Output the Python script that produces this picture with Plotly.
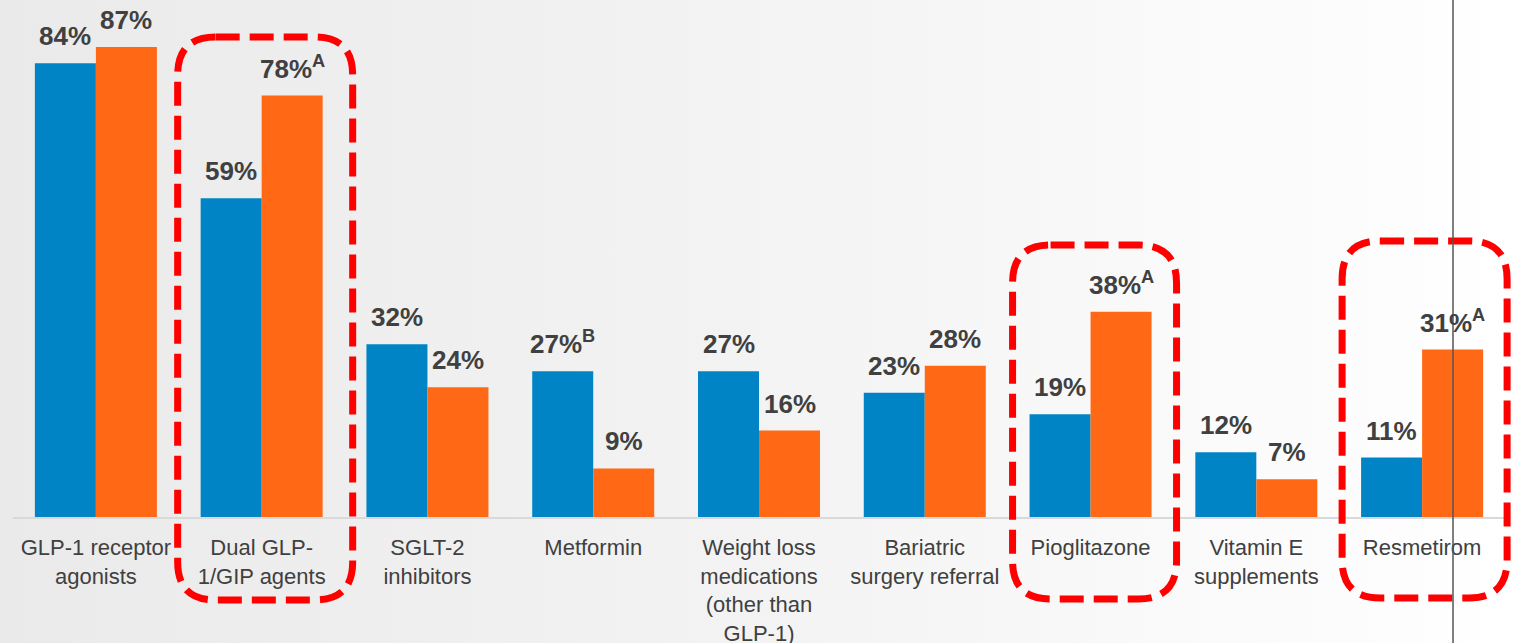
import base64
import plotly.graph_objects as go

categories = [
    "GLP-1 receptor<br>agonists",
    "Dual GLP-<br>1/GIP agents",
    "SGLT-2<br>inhibitors",
    "Metformin",
    "Weight loss<br>medications<br>(other than<br>GLP-1)",
    "Bariatric<br>surgery referral",
    "Pioglitazone",
    "Vitamin E<br>supplements",
    "Resmetirom",
]
blue_values = [84, 59, 32, 27, 27, 23, 19, 12, 11]
orange_values = [87, 78, 24, 9, 16, 28, 38, 7, 31]
blue_notes = ["", "", "", "B", "", "", "", "", ""]
orange_notes = ["", "A", "", "", "", "", "A", "", "A"]
highlighted = [1, 6, 8]

BLUE = "#0084C6"
ORANGE = "#FF6916"
TXT = "#404040"

W, H = 1514, 643
ML, MR, MT, MB = 13, 9, 0, 126
PW, PH = W - ML - MR, H - MT - MB

xs = list(range(len(categories)))
XMIN, XMAX = -0.5, len(categories) - 0.5

fig = go.Figure()
fig.add_trace(go.Bar(x=xs, y=blue_values, marker_color=BLUE, marker_line_width=0, hoverinfo="skip"))
fig.add_trace(go.Bar(x=xs, y=orange_values, marker_color=ORANGE, marker_line_width=0, hoverinfo="skip"))

bargap = 0.264
half = (1 - bargap) / 4

annotations = []
for i in xs:
    for val, note, off in ((blue_values[i], blue_notes[i], -half), (orange_values[i], orange_notes[i], half)):
        t = f"<b>{val}%</b>"
        if note:
            t += f"<sup><b>{note}</b></sup>"
        annotations.append(dict(
            x=i + off, y=val, xref="x", yref="y", text=t, showarrow=False,
            yanchor="bottom", xanchor="center", yshift=10,
            font=dict(family="Liberation Sans, Arial, sans-serif", size=26, color=TXT),
        ))

# background gradient image
svg = (
    f'<svg xmlns="http://www.w3.org/2000/svg" width="{W}" height="{H}" preserveAspectRatio="none">'
    '<defs><linearGradient id="g" x1="0" y1="0" x2="1" y2="0">'
    '<stop offset="0" stop-color="#EAEAEA"/><stop offset="0.5" stop-color="#F3F3F3"/>'
    '<stop offset="1" stop-color="#FFFFFF"/></linearGradient></defs>'
    f'<rect width="{W}" height="{H}" fill="url(#g)"/></svg>'
)
uri = "data:image/svg+xml;base64," + base64.b64encode(svg.encode()).decode()


def rounded_path(x0, x1, y0, y1, r):
    # pixel coords, y positive up
    return (
        f"M {x0 + r},{y1} L {x1 - r},{y1} Q {x1},{y1} {x1},{y1 - r} "
        f"L {x1},{y0 + r} Q {x1},{y0} {x1 - r},{y0} L {x0 + r},{y0} "
        f"Q {x0},{y0} {x0},{y0 + r} L {x0},{y1 - r} Q {x0},{y1} {x0 + r},{y1} Z"
    )


box_px = {1: (-84, 91, -83, 480), 6: (-78, 86, -82, 272), 8: (-80, 85, -81, 276)}
shapes = []
for i in highlighted:
    x0, x1, y0, y1 = box_px[i]
    shapes.append(dict(
        type="path", xref="paper", yref="paper", xsizemode="pixel", ysizemode="pixel",
        xanchor=(i - XMIN) / (XMAX - XMIN), yanchor=0, path=rounded_path(x0, x1, y0, y1, 38),
        line=dict(color="#FF0000", width=7, dash="24px,10px"), layer="above",
    ))

shapes.append(dict(
    type="line", xref="paper", yref="paper", x0=(1453 - ML) / PW, x1=(1453 - ML) / PW,
    y0=-MB / PH, y1=1, line=dict(color="#555555", width=1.5), layer="above",
))

fig.update_layout(
    width=W, height=H,
    margin=dict(l=ML, r=MR, t=MT, b=MB, pad=0, autoexpand=False),
    barmode="group", bargap=bargap, bargroupgap=0,
    showlegend=False,
    paper_bgcolor="rgba(0,0,0,0)", plot_bgcolor="rgba(0,0,0,0)",
    annotations=annotations, shapes=shapes,
    images=[dict(source=uri, xref="paper", yref="paper", x=-ML / PW, y=1 + MT / PH,
                 sizex=W / PW, sizey=H / PH, xanchor="left", yanchor="top",
                 sizing="stretch", layer="below")],
    xaxis=dict(
        tickvals=xs, ticktext=categories, range=[XMIN, XMAX], automargin=False,
        showgrid=False, zeroline=False, showline=True, linecolor="#D9D9D9", linewidth=1.5,
        ticks="", ticklabelstandoff=10,
        tickfont=dict(family="Liberation Sans, Arial, sans-serif", size=22, color=TXT),
        fixedrange=True,
    ),
    yaxis=dict(range=[0, 95.7], visible=False, fixedrange=True, automargin=False),
)

fig.write_html(
    "out.html",
    config={"displayModeBar": False},
    post_script="document.body.style.margin='0';document.body.style.overflow='hidden';",
)
